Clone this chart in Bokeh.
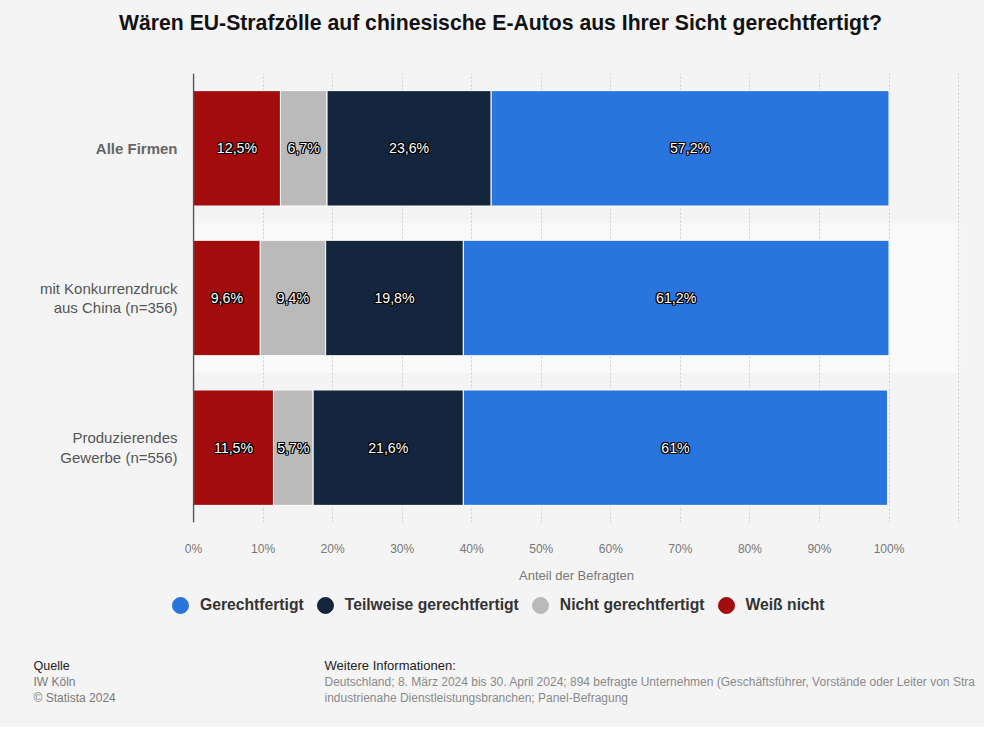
from bokeh.plotting import figure
from bokeh.layouts import column, row
from bokeh.models import (ColumnDataSource, FactorRange, Range1d, FixedTicker, Label,
                          Legend, LegendItem, Span)
from bokeh.core.properties import value
from bokeh.embed import file_html
from bokeh.resources import INLINE

FONT = "Liberation Sans"

title_text = "Wären EU-Strafzölle auf chinesische E-Autos aus Ihrer Sicht gerechtfertigt?"
categories = ["Alle Firmen", "mit Konkurrenzdruck\naus China (n=356)", "Produzierendes\nGewerbe (n=556)"]
category_styles = ["bold", "normal", "normal"]
category_colors = ["#666666", "#555555", "#555555"]
series = ["Weiß nicht", "Nicht gerechtfertigt", "Teilweise gerechtfertigt", "Gerechtfertigt"]
weiss_nicht = [12.5, 9.6, 11.5]
nicht_gerechtfertigt = [6.7, 9.4, 5.7]
teilweise_gerechtfertigt = [23.6, 19.8, 21.6]
gerechtfertigt = [57.2, 61.2, 61.0]
colors = ["#a30c0c", "#bababa", "#13263d", "#2876dd"]
x_ticks = [0, 10, 20, 30, 40, 50, 60, 70, 80, 90, 100]
tick_labels = ["0%", "10%", "20%", "30%", "40%", "50%", "60%", "70%", "80%", "90%", "100%"]
grid_ticks = [0, 10, 20, 30, 40, 50, 60, 70, 80, 90, 100, 110]
x_start, x_end = -0.144, 110.28
axis_title = "Anteil der Befragten"
legend_order = ["Gerechtfertigt", "Teilweise gerechtfertigt", "Nicht gerechtfertigt", "Weiß nicht"]
source_title = "Quelle"
source_lines = ["IW Köln", "© Statista 2024"]
info_title = "Weitere Informationen:"
info_lines = ["Deutschland; 8. März 2024 bis 30. April 2024; 894 befragte Unternehmen (Geschäftsführer, Vorstände oder Leiter von Stra",
              "industrienahe Dienstleistungsbranchen; Panel-Befragung"]

BG = "#f4f4f4"
W, H = 984, 727
TITLE_H = 73
LABEL_W = 178
MAIN_PAD_L = 14
MAIN_PAD_R = 24
FRAME_H = 455
AXIS_H = 57
MAIN_H = FRAME_H + AXIS_H
FOOT_H = H - TITLE_H - MAIN_H


def blank(width, height):
    f = figure(width=width, height=height, output_backend="svg", toolbar_location=None,
               x_range=Range1d(0, 1), y_range=Range1d(0, 1),
               x_axis_location=None, y_axis_location=None, min_border=0,
               background_fill_color=BG, border_fill_color=BG, outline_line_color=None)
    f.grid.visible = False
    return f


# ---- title ----
tf = blank(W, TITLE_H)
tf.add_layout(Label(x=500, y=TITLE_H - 22, x_units="screen", y_units="screen", text=title_text,
                    text_align="center", text_baseline="middle", text_font=FONT,
                    text_font_size="21.2px", text_font_style="bold", text_color="#111111"))

# ---- main chart ----
yr = FactorRange(factors=list(reversed(categories)), range_padding=0)
p = figure(width=W - LABEL_W, height=MAIN_H, output_backend="svg", toolbar_location=None,
           y_range=yr, x_range=Range1d(x_start, x_end), y_axis_location=None,
           min_border_left=MAIN_PAD_L, min_border_right=MAIN_PAD_R, min_border_top=0,
           min_border_bottom=AXIS_H,
           background_fill_color=BG, border_fill_color=BG, outline_line_color=None)

p.hbar(y=[categories[1]], left=[x_start], right=[x_end], height=1, fill_color="#fafafa",
       line_color=None, level="image")

values = [weiss_nicht, nicht_gerechtfertigt, teilweise_gerechtfertigt, gerechtfertigt]
left = [0.0] * len(categories)
lab_x, lab_y, lab_t = [], [], []
for name, vals, col in zip(series, values, colors):
    right = [l + v for l, v in zip(left, vals)]
    src = ColumnDataSource(dict(y=categories, left=left, right=right))
    p.hbar(y="y", left="left", right="right", height=0.771, source=src,
           fill_color=col, line_color="white", line_width=1)
    for c, l, v in zip(categories, left, vals):
        lab_x.append(l + v / 2)
        lab_y.append(c)
        lab_t.append(f"{v:g}".replace(".", ",") + "%")
    left = right

lsrc = ColumnDataSource(dict(x=lab_x, y=lab_y, t=lab_t))
for dx, dy in [(-1, -1), (1, -1), (-1, 1), (1, 1), (0, 1), (0, -1), (1, 0), (-1, 0)]:
    p.text(x="x", y="y", text="t", source=lsrc, x_offset=dx, y_offset=dy,
           text_align="center", text_baseline="middle", text_color="black",
           text_font=value(FONT), text_font_size="14.2px")
p.text(x="x", y="y", text="t", source=lsrc, text_align="center", text_baseline="middle",
       text_color="white", text_font=value(FONT), text_font_size="14.2px")

p.add_layout(Span(location=0, dimension="height", line_color="#555555", line_width=1.5))

ax = p.xaxis[0]
ax.ticker = FixedTicker(ticks=x_ticks)
ax.major_label_overrides = {t: l for t, l in zip(x_ticks, tick_labels)}
ax.axis_line_color = None
ax.major_tick_line_color = None
ax.minor_tick_line_color = None
ax.major_label_standoff = 13
ax.major_label_text_font = FONT
ax.major_label_text_font_size = "12px"
ax.major_label_text_color = "#777777"
ax.axis_label = axis_title
ax.axis_label_text_font = FONT
ax.axis_label_text_font_size = "13px"
ax.axis_label_text_font_style = "normal"
ax.axis_label_text_color = "#777777"
ax.axis_label_standoff = 9

p.xgrid.ticker = FixedTicker(ticks=grid_ticks)
p.xgrid.grid_line_color = "#cfcfcf"
p.xgrid.grid_line_dash = "2 2"
p.ygrid.grid_line_color = None

# ---- category labels (share the y scale) ----
lf = figure(width=LABEL_W, height=MAIN_H, output_backend="svg", toolbar_location=None,
            x_range=Range1d(0, 1), y_range=yr, x_axis_location=None, y_axis_location=None,
            min_border_left=0, min_border_right=0, min_border_top=0, min_border_bottom=AXIS_H,
            background_fill_color=BG, border_fill_color=BG, outline_line_color=None)
lf.grid.visible = False
csrc = ColumnDataSource(dict(x=[1] * len(categories), y=categories, t=categories,
                             s=category_styles, c=category_colors))
lf.text(x="x", y="y", text="t", source=csrc, x_offset=-1, text_align="right",
        text_baseline="middle", text_font=value(FONT), text_font_size="15px",
        text_font_style="s", text_color="c", text_line_height=1.15)

# ---- legend and footer ----
ff = blank(W, FOOT_H)
items = []
for name in legend_order:
    col = colors[series.index(name)]
    # legend proxy: a single point kept outside the visible range
    r = ff.scatter(x=[-1], y=[-1], marker="circle", size=16, fill_color=col, line_color=col)
    items.append(LegendItem(label=name, renderers=[r]))
legend = Legend(items=items, orientation="horizontal", location=(160, FOOT_H - 40),
                glyph_width=40, glyph_height=40, label_standoff=0, spacing=1,
                padding=0, margin=0, background_fill_alpha=0, border_line_color=None,
                label_text_font=FONT, label_text_font_size="15.7px",
                label_text_font_style="bold", label_text_color="#333333")
ff.add_layout(legend, "center")

ff.add_layout(Label(x=33, y=FOOT_H - 80, x_units="screen", y_units="screen", text=source_title,
                    text_baseline="middle", text_font=FONT, text_font_size="12.5px", text_color="#222222"))
for i, t in enumerate(source_lines):
    ff.add_layout(Label(x=33, y=FOOT_H - 96 - 16 * i, x_units="screen", y_units="screen", text=t,
                        text_baseline="middle", text_font=FONT, text_font_size="12px", text_color="#7a7a7a"))
ff.add_layout(Label(x=324, y=FOOT_H - 80, x_units="screen", y_units="screen", text=info_title,
                    text_baseline="middle", text_font=FONT, text_font_size="13px", text_color="#222222"))
for i, t in enumerate(info_lines):
    ff.add_layout(Label(x=324, y=FOOT_H - 96 - 16 * i, x_units="screen", y_units="screen", text=t,
                        text_baseline="middle", text_font=FONT, text_font_size="12px", text_color="#8a8a8a"))

layout = column(tf, row(lf, p, styles={"background-color": BG}), ff,
                styles={"background-color": BG})
open("out.html", "w").write(file_html(layout, INLINE))
